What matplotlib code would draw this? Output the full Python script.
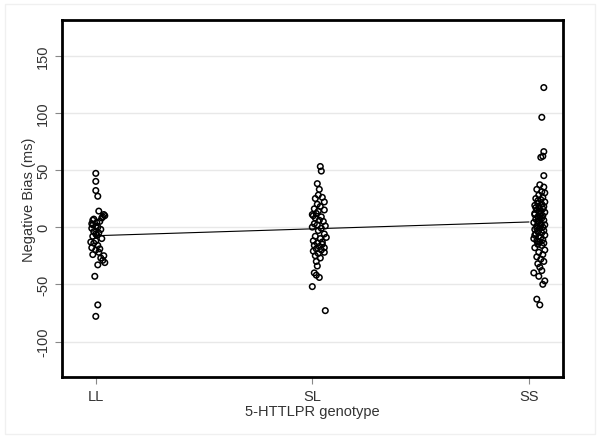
import numpy as np
import matplotlib
matplotlib.use("Agg")
import matplotlib.pyplot as plt
from matplotlib.patches import Rectangle

plt.rcParams['font.family'] = ['Liberation Sans', 'DejaVu Sans']

# Data
genotypes = ['LL', 'SL', 'SS']

ll_bias = [47, 40, 32, 27, 14, 11, 10, 9, 8, 7, 6, 5, 4, 2, 1, 0, -1, -2, -4, -5,
           -7, -8, -10, -12, -14, -16, -18, -20, -22, -24, -25, -27, -29, -31, -33,
           -43, -68, -78, 3, -6, -13, -19]
ll_jit = [0, 0, 0, 2, 3, 8, 9, 7, 6, -2, -3, 4, 1, -3, 0, 2, -4, 5, -2, 3,
          1, -3, 6, 0, -2, 2, -4, 0, 3, -3, 8, 5, 7, 9, 2,
          -1, 2, 0, -4, 0, -5, 4]

sl_bias = [53, 49, 38, 33, 28, 26, 25, 22, 20, 18, 16, 15, 14, 12, 10, 9, 8, 6, 5, 3,
           2, 1, 0, -1, -3, -6, -8, -9, -10, -12, -14, -15, -16, -17, -18, -19, -20,
           -21, -23, -25, -27, -30, -34, -40, -42, -44, -52, -73, 11, -13, -22]
sl_jit = [8, 9, 5, 7, 6, 10, 3, 12, 5, 8, 2, 12, 6, 4, 1, 9, 3, 7, 11, 2,
          5, 13, 0, 9, 6, 12, 3, 14, 8, 1, 5, 10, 2, 7, 12, 4, 9,
          1, 6, 3, 8, 4, 5, 2, 4, 7, 0, 13, 0, 10, 12]

ss_bias = [122, 96, 66, 62, 61, 45, 37, 35, 33, 31, 30, 28, 26, 25, 24, 22, 21, 20, 19,
           18, 17, 16, 15, 14, 13, 12, 11, 10, 9, 8, 7, 6, 5, 4, 3, 2, 1, 0, -1, -2,
           -3, -4, -5, -6, -7, -8, -9, -10, -11, -12, -13, -14, -15, -16, -18, -20,
           -22, -24, -26, -28, -30, -32, -35, -38, -40, -43, -47, -50, -63, -68,
           23, 17, 11, 5, -1, -7, -13, 2, 8, 14]
ss_jit = [15, 13, 15, 14, 12, 15, 11, 15, 8, 13, 16, 10, 14, 7, 12, 16, 9, 13, 6,
          15, 10, 14, 8, 12, 16, 6, 11, 14, 9, 13, 7, 15, 10, 5, 12, 16, 8, 14, 11, 6,
          15, 9, 13, 7, 16, 10, 12, 5, 14, 8, 11, 15, 9, 13, 6, 16,
          10, 14, 8, 12, 15, 9, 11, 13, 5, 10, 16, 14, 8, 11,
          9, 7, 6, 9, 8, 6, 9, 12, 11, 10]

# fitted line at LL and SS
fit_x = [0, 2]
fit_y = [-7.5, 4.5]

yticks = [-100, -50, 0, 50, 100, 150]

fig = plt.figure(figsize=(6.0, 4.39), dpi=100)
fig.patches.append(Rectangle((0.008, 0.01), 0.984, 0.978, transform=fig.transFigure,
                             fill=False, edgecolor='#f0f0f0', lw=1))
ax = fig.add_axes([0.103, 0.139, 0.835, 0.813])

px = 1 / 216.5  # one pixel in category units
for i, (vals, jit) in enumerate([(ll_bias, ll_jit), (sl_bias, sl_jit), (ss_bias, ss_jit)]):
    xs = [i + j * px for j in jit]
    ax.scatter(xs, vals, s=16, facecolors='none', edgecolors='black',
               linewidths=1.1, zorder=3)

ax.plot(fit_x, fit_y, color='black', lw=0.8, zorder=4)

ax.set_xlim(-0.157, 2.157)
ax.set_ylim(-131, 181)
ax.set_yticks(yticks)
ax.set_yticklabels([str(t) for t in yticks], rotation=90, va='center')
ax.set_xticks(range(len(genotypes)))
ax.set_xticklabels(genotypes)
for t in yticks:
    ax.axhline(t, color='#e8e8e8', lw=1.0, zorder=1)

ax.tick_params(axis='both', colors='#888888', labelcolor='#333333', labelsize=10.5,
               length=5, width=0.8)
for s in ax.spines.values():
    s.set_linewidth(2)
    s.set_color('black')

ax.set_xlabel('5-HTTLPR genotype', fontsize=10.5, color='#333333', labelpad=1)
ax.set_ylabel('Negative Bias (ms)', fontsize=10.5, color='#333333', labelpad=0)

fig.savefig('out.png', dpi=100)
